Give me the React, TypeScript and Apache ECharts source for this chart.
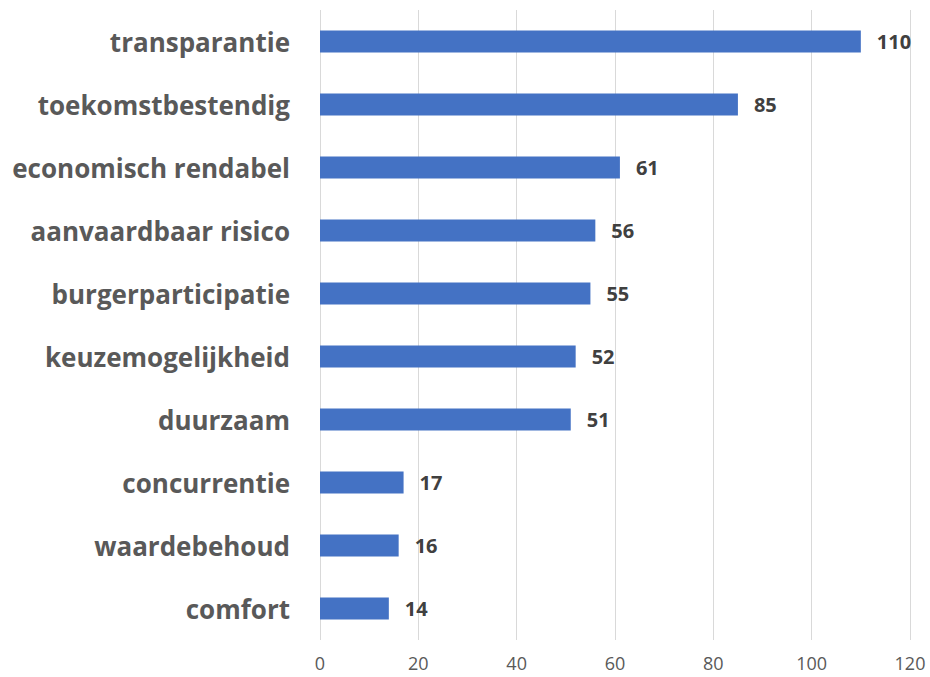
import React, { useEffect, useRef } from "react";
import * as echarts from "echarts";

const categories = [
  "transparantie",
  "toekomstbestendig",
  "economisch rendabel",
  "aanvaardbaar risico",
  "burgerparticipatie",
  "keuzemogelijkheid",
  "duurzaam",
  "concurrentie",
  "waardebehoud",
  "comfort",
];
const values = [110, 85, 61, 56, 55, 52, 51, 17, 16, 14];
const xTicks = { min: 0, max: 120, interval: 20 };

export default function App() {
  const ref = useRef<HTMLDivElement>(null);
  useEffect(() => {
    if (!ref.current) return;
    const chart = echarts.init(ref.current, null, { renderer: "svg" });
    chart.setOption({
      animation: false,
      backgroundColor: "#ffffff",
      grid: { left: 320, right: 20, top: 10, bottom: 37, containLabel: false },
      xAxis: {
        type: "value",
        min: xTicks.min,
        max: xTicks.max,
        interval: xTicks.interval,
        axisLine: { show: false },
        axisTick: { show: false },
        splitLine: { show: true, lineStyle: { color: "#d9d9d9", width: 1 } },
        axisLabel: {
          color: "#595959",
          fontSize: 18,
          fontFamily: "Open Sans",
          margin: 14,
        },
      },
      yAxis: {
        type: "category",
        data: categories,
        inverse: true,
        axisLine: { show: false },
        axisTick: { show: false },
        axisLabel: {
          color: "#595959",
          fontSize: 26,
          fontWeight: "bold",
          fontFamily: "Open Sans",
          margin: 30,
        },
      },
      series: [
        {
          type: "bar",
          data: values,
          barWidth: 22,
          itemStyle: { color: "#4472c4" },
          label: {
            show: true,
            position: "right",
            distance: 16,
            color: "#404040",
            fontSize: 20,
            fontWeight: "bold",
            fontFamily: "Open Sans",
          },
        },
      ],
    });
    return () => chart.dispose();
  }, []);
  return (
    <div
      ref={ref}
      style={{ position: "absolute", left: 0, top: 0, width: 930, height: 677 }}
    />
  );
}
